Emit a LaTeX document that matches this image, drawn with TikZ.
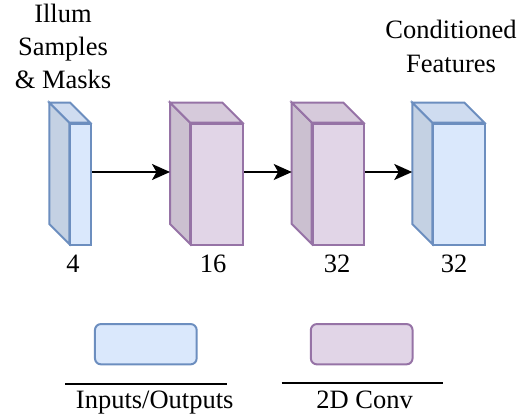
\documentclass[tikz,border=0pt]{standalone}
\usepackage{fontspec}
\setmainfont{Liberation Serif}
\usetikzlibrary{arrows.meta,calc}
\definecolor{bfill}{HTML}{DAE8FC}
\definecolor{bstroke}{HTML}{6C8EBF}
\definecolor{btop}{RGB}{207,220,240}
\definecolor{bside}{RGB}{196,209,227}
\definecolor{pfill}{HTML}{E1D5E7}
\definecolor{pstroke}{HTML}{9673A6}
\definecolor{ptop}{RGB}{214,202,219}
\definecolor{pside}{RGB}{203,192,208}
\tikzset{
  cubeline/.style={line width=2pt, line join=miter},
  lbl/.style={font=\fontsize{26.5}{33}\selectfont, inner sep=0pt, anchor=base},
  conn/.style={line width=2pt, -{Stealth[length=18pt,width=16pt,inset=4.5pt]}},
  legbox/.style={line width=2pt, rounded corners=6pt, minimum width=101.7pt, minimum height=40.3pt, inner sep=0pt},
  legline/.style={line width=1.7pt},
}
\newcommand\mycube[4]{%
  \filldraw[draw=#4stroke, fill=#4side, cubeline] (#2,122.5) -- ({#2-20},102.5) -- ({#2-20},224) -- (#2,244) -- cycle;
  \filldraw[draw=#4stroke, fill=#4top, cubeline] (#2,122.5) -- ({#2-20},102.5) -- ({#3-20},102.5) -- (#3,122.5) -- cycle;
  \node[draw=#4stroke, fill=#4fill, cubeline, minimum width={#3-#2}, minimum height=121.5, inner sep=0pt, anchor=north west] (#1) at (#2,122.5) {};
  \coordinate (#1s) at ({#2-20},172);
}
\begin{document}
\begin{tikzpicture}[x=1pt,y=-1pt]
\useasboundingbox (0,0) rectangle (526,417);
\mycube{f1}{69.3}{90}{b}
\mycube{f2}{190}{242.3}{p}
\mycube{f3}{311.7}{363.3}{p}
\mycube{f4}{432.3}{484.3}{b}
\coordinate (ay) at (0,172);
\draw[conn] (f1.east |- ay) -- (f2s);
\draw[conn] (f2.east |- ay) -- (f3s);
\draw[conn] (f3.east |- ay) -- (f4s);
% titles
\node[lbl] (t1a) at (63,22.7) {Illum};
\node[lbl] (t1b) at (63,55.5) {Samples};
\node[lbl] (t1c) at (63,88.5) {\& Masks};
\node[lbl] (t2a) at (451,39) {Conditioned};
\node[lbl] (t2b) at (451,73) {Features};
% numbers
\node[lbl] (n1) at (73,272) {4};
\node[lbl] (n2) at (213,272) {16};
\node[lbl] (n3) at (337,272) {32};
\node[lbl] (n4) at (454,272) {32};
% legend
\node[legbox, draw=bstroke, fill=bfill] (lg1) at (145.8,344.2) {};
\node[legbox, draw=pstroke, fill=pfill] (lg2) at (361.7,344.2) {};
\coordinate (l1a) at (65,384);
\coordinate (l1b) at (226.7,384);
\coordinate (l2a) at (281.7,382.7);
\coordinate (l2b) at (442.7,382.7);
\draw[legline] (l1a) -- (l1b);
\draw[legline] (l2a) -- (l2b);
\node[lbl] (lt1) at (154.7,408) {Inputs/Outputs};
\node[lbl] (lt2) at (364.7,408) {2D Conv};
\end{tikzpicture}
\end{document}
